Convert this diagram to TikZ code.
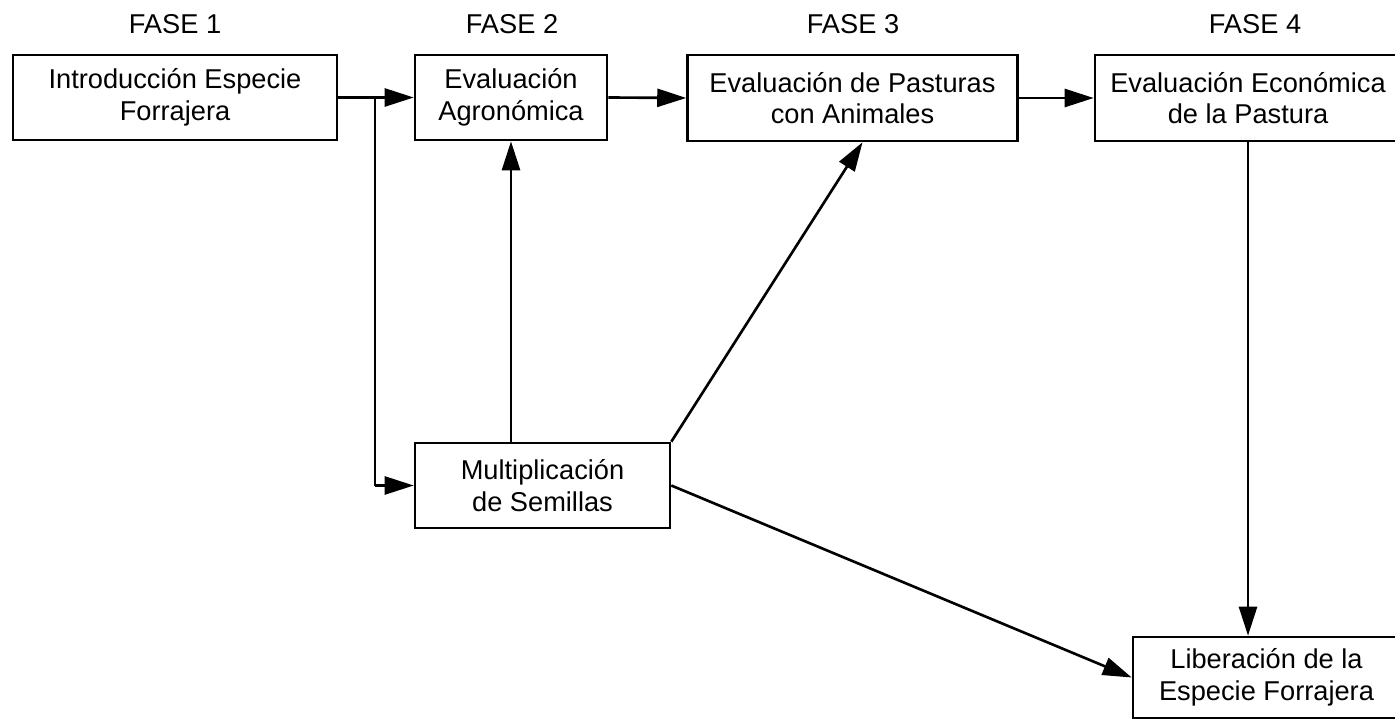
\documentclass[tikz,border=0pt]{standalone}
\usepackage{fontspec}
\setmainfont{Liberation Sans}
\usetikzlibrary{arrows.meta}
\tikzset{
    fasebox/.style={draw, line width=1.5pt, align=center, inner sep=2pt,
        font=\fontsize{15.5}{18}\selectfont},
    faselabel/.style={font=\fontsize{15.5}{18}\selectfont},
    flecha/.style={line width=1.5pt, -{Triangle[length=5.8mm,width=3.6mm]}},
    linea/.style={line width=1.5pt}
}

\begin{document}
\begin{tikzpicture}[x=0.02cm, y=-0.02cm]
    \useasboundingbox (0,0) rectangle (1395,722);

    %fases
    \node[faselabel] (fase1) at (175,24) {FASE 1};
    \node[faselabel] (fase2) at (512,24) {FASE 2};
    \node[faselabel] (fase3) at (853,24) {FASE 3};
    \node[faselabel] (fase4) at (1255,24) {FASE 4};

    %for fase 1
    \node[fasebox, minimum width=6.48cm, minimum height=1.7cm] (intro) at (175,97.5)
        {Introducción Especie\\Forrajera};

    %for fase 2
    \node[fasebox, minimum width=3.84cm, minimum height=1.7cm] (agro) at (511,97.5)
        {Evaluación\\Agronómica};
    \node[fasebox, minimum width=5.1cm, minimum height=1.7cm] (semillas) at (542.5,485.5)
        {Multiplicación\\de Semillas};

    %for fase 3
    \node[fasebox, minimum width=6.6cm, minimum height=1.72cm] (pasturas) at (852.5,98)
        {Evaluación de Pasturas\\con Animales};

    %for fase 4
    \node[fasebox, minimum width=6.12cm, minimum height=1.72cm] (economica) at (1248,98)
        {Evaluación Económica\\de la Pastura};
    \node[fasebox, minimum width=5.34cm, minimum height=1.62cm] (liberacion) at (1266.5,677.5)
        {Liberación de la\\Especie Forrajera};

    %connectors
    \coordinate (split) at (375,97.5);
    \draw[flecha] (intro.east) -- (agro.west);
    \draw[linea] (split) -- (split |- semillas.west);
    \draw[flecha] (split |- semillas.west) -- (semillas.west);
    \draw[flecha] (agro.east) -- (pasturas.west);
    \draw[flecha] (pasturas.east) -- (economica.west);
    \draw[flecha] (agro.south |- semillas.north) -- (agro.south);
    \draw[flecha] (semillas.north east) -- ([xshift=0.2cm]pasturas.south);
    \draw[flecha] (semillas.east) -- (liberacion.west);
    \draw[flecha] (economica.south) -- (economica.south |- liberacion.north);
\end{tikzpicture}
\end{document}
